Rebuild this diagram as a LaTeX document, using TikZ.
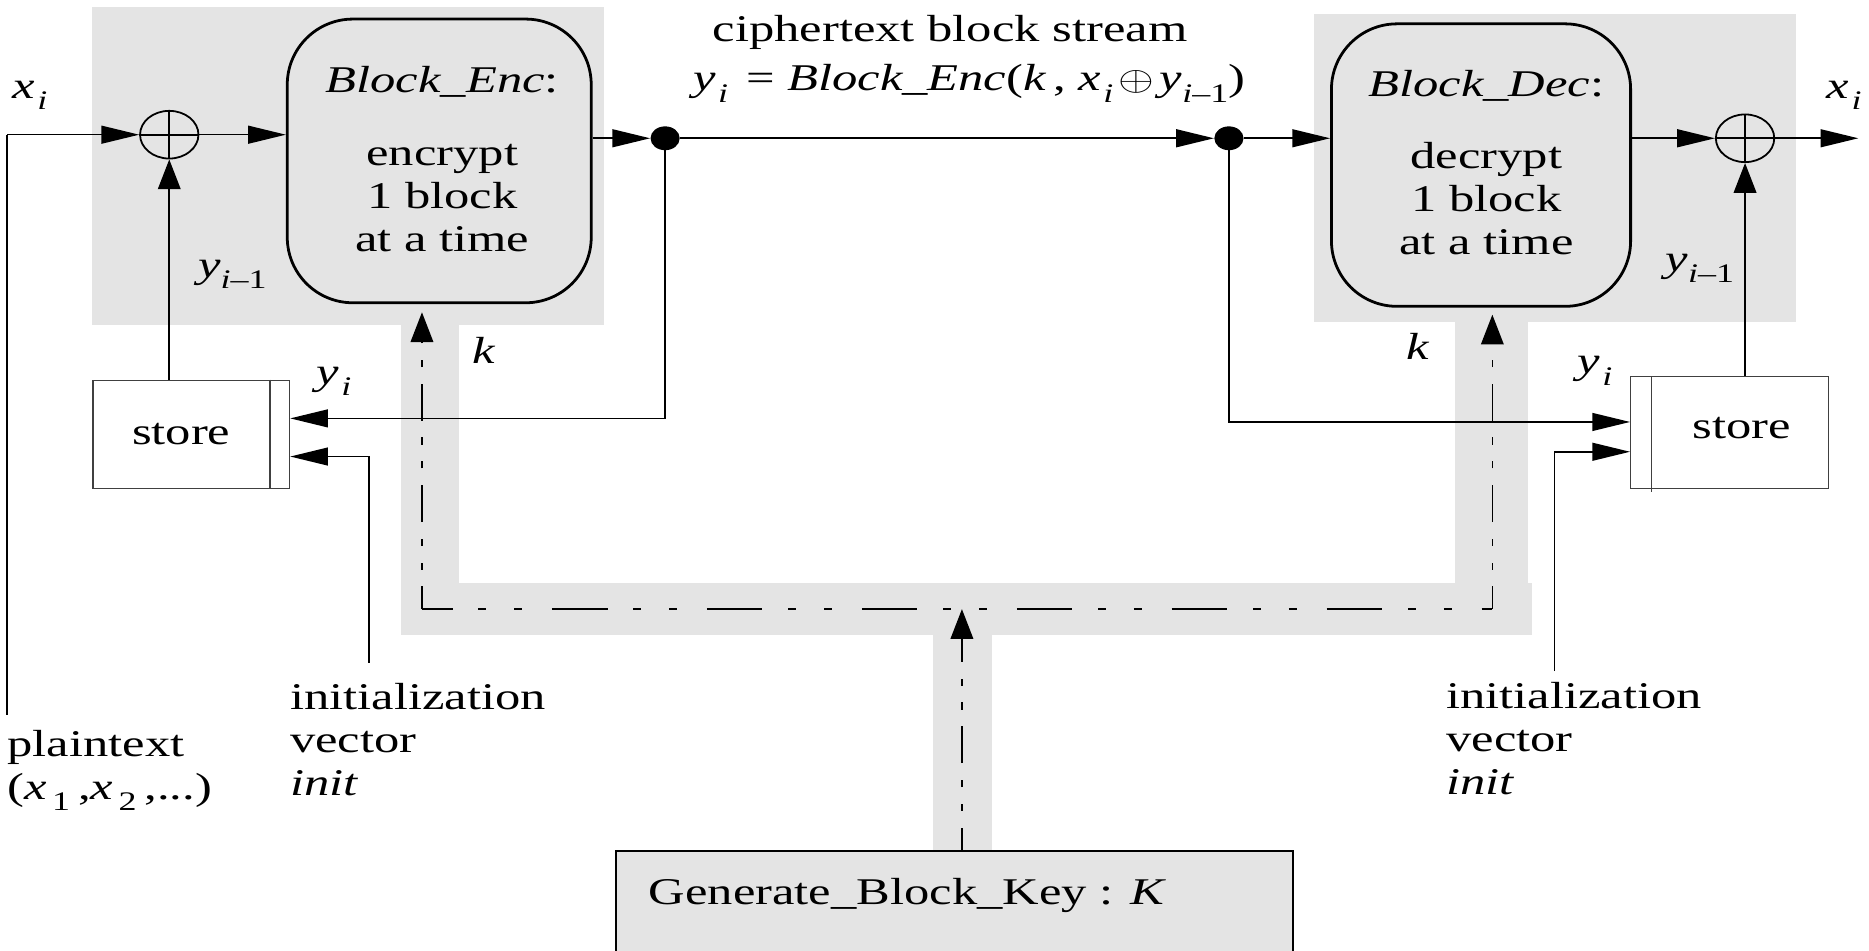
\documentclass[tikz,border=0pt]{standalone}
\usepackage{fontspec}
\setmainfont{Liberation Serif}
\usepackage{graphicx}
\usetikzlibrary{arrows.meta,shapes.geometric,fit}
\definecolor{panel}{HTML}{E4E4E4}
% all lettering is set a little wider than the font's natural shape
\newcommand{\sx}[1]{\scalebox{1.34}[1]{#1}}
\newcommand{\lowidx}[1]{\raisebox{-0.3em}{\fontsize{13.5}{13.5}\selectfont #1}}
\newcommand{\linesof}[2][c]{\begin{tabular}{@{}#1@{}}#2\end{tabular}}
\begin{document}
\begin{tikzpicture}[x=0.6pt,y=-0.6pt,
  every node/.style={font=\fontsize{19}{21.6}\selectfont},
  wire/.style={line width=0.8pt},
  hto/.style={wire,-{Triangle[length=19pt,width=9pt]}},
  vto/.style={wire,-{Triangle[length=15pt,width=11.4pt]}},
  keyh/.style={line width=0.8pt,dash pattern=on 28pt off 13pt on 4pt off 14pt on 4pt off 15pt,dash phase=12.6pt},
  keyv/.style={line width=0.8pt,dash pattern=on 18.6pt off 8.4pt on 3.6pt off 8.4pt on 3.6pt off 8.4pt,dash phase=7.2pt},
  cipher/.style={draw,line width=1.4pt,fill=panel,rounded corners=33pt,inner sep=0pt},
  storebox/.style={draw=black!75,line width=0.6pt,fill=white,inner sep=0pt},
  genbox/.style={draw,line width=0.9pt,fill=panel,inner sep=0pt},
  xorop/.style={ellipse,draw,line width=0.9pt,minimum width=29.4pt,minimum height=24pt,inner sep=0pt},
  joint/.style={ellipse,fill,minimum width=14.7pt,minimum height=12pt,inner sep=0pt},
  lbl/.style={inner sep=0pt},
]
\useasboundingbox (0,0) rectangle (1568,797);
\clip (0,0) rectangle (1568,797);

% grey backdrops: the two cipher panels and the key distribution channel
\fill[panel] (77,6) rectangle (507,273);
\fill[panel] (1102,12) rectangle (1507,270);
\fill[panel] (336,270) rectangle (385,533);
\fill[panel] (336,489) rectangle (1285,533);
\fill[panel] (1221,268) rectangle (1282,533);
\fill[panel] (783,530) rectangle (832,716);

% encryption side
\node[cipher,fit={(241,16) (496,254)}] (enc) {};
\node[lbl] (enctext) at (371,137) {\sx{\linesof{\textit{Block\_Enc}:\\[15pt] encrypt\\ 1 block\\ at a time}}};
\node[xorop] (xor1) at (142,113) {};
\draw[line width=0.9pt] (xor1.north) -- (xor1.south) (xor1.west) -- (xor1.east);
\node[joint] (dot1) at (558,116) {};
\node[storebox,fit={(78,319) (243,410)}] (store1) {};
\draw[draw=black!75,line width=0.6pt] ([xshift=-10.2pt]store1.north east) -- ([xshift=-10.2pt]store1.south east);
\node[lbl] (store1text) at (152,364) {\sx{store}};

% decryption side
\node[cipher,fit={(1117,20) (1368,257)}] (dec) {};
\node[lbl] (dectext) at (1247,140) {\sx{\linesof{\textit{Block\_Dec}:\\[15pt] decrypt\\ 1 block\\ at a time}}};
\node[xorop] (xor2) at (1464,116) {};
\draw[line width=0.9pt] (xor2.north) -- (xor2.south) (xor2.west) -- (xor2.east);
\node[joint] (dot2) at (1031,116) {};
\node[storebox,fit={(1368,316) (1534,410)}] (store2) {};
\draw[draw=black!75,line width=0.6pt] ([xshift=10.8pt]store2.north west) -- ([xshift=10.8pt,yshift=-1.2pt]store2.south west);
\node[lbl] (store2text) at (1461,359) {\sx{store}};

% key generator
\node[genbox,fit={(517,714) (1085,830)}] (gen) {};
\node[lbl,anchor=west] (gentext) at (544,751) {\sx{Generate\_Block\_Key : \textit{K}}};

% data path
\coordinate (inc) at (6,113);
\coordinate (ptx) at (6,600);
\draw[wire] (inc) -- (ptx);
\draw[hto] (inc) -- (xor1.west);
\draw[hto] (xor1.east) -- (xor1.east -| enc.west);
\draw[hto] (enc.east |- dot1) -- (dot1.west);
\draw[hto] (dot1.east) -- (dot2.west);
\draw[hto] (dot2.east) -- (dot2 -| dec.west);
\draw[hto] (dec.east |- xor2) -- (xor2.west);
\coordinate (outx) at (1559,116);
\draw[hto] (xor2.east) -- (outx);

% chaining feedback through the stores
\coordinate (fb1) at (558,351);
\draw[hto] (dot1.center) -- (fb1) -- (fb1 -| store1.east);
\coordinate (fb2) at (1031,354);
\draw[hto] (dot2.center) -- (fb2) -- (fb2 -| store2.west);
\coordinate (iv1) at (309.5,556);
\coordinate (iv1t) at (309.5,383);
\draw[hto] (iv1) -- (iv1t) -- (iv1t -| store1.east);
\coordinate (iv2) at (1304,563);
\coordinate (iv2t) at (1304,379);
\draw[hto] (iv2) -- (iv2t) -- (iv2t -| store2.west);
\draw[vto] (store1.north -| xor1) -- (xor1.south);
\draw[vto] (store2.north -| xor2) -- (xor2.south);

% key distribution
\coordinate (kl) at (354,511);
\coordinate (kj) at (807,511);
\coordinate (kr) at (1252,511);
\coordinate (ktl) at (354,262);
\coordinate (ktr) at (1252,264);
\draw[keyh] (kl) -- (kr);
\draw[keyv,vto] (kl) -- (ktl);
\draw[keyv,vto] (kr) -- (ktr);
\draw[keyv,vto] (gen.north -| kj) -- (kj);

% labels
\node[lbl] (lxin) at (25,80) {\sx{\textit{x}\kern1pt\lowidx{\textit{i}}}};
\node[lbl] (lyprev1) at (195,230) {\sx{\textit{y}\lowidx{\textit{i}–1}}};
\node[lbl] (lk1) at (406,294) {\sx{\textit{k}}};
\node[lbl] (lyi1) at (280,320) {\sx{\textit{y}\kern1pt\lowidx{\textit{i}}}};
\node[lbl] (lxout) at (1547,80) {\sx{\textit{x}\kern1pt\lowidx{\textit{i}}}};
\node[lbl] (lyprev2) at (1426,225) {\sx{\textit{y}\lowidx{\textit{i}–1}}};
\node[lbl] (lk2) at (1190,291) {\sx{\textit{k}}};
\node[lbl] (lyi2) at (1338,311) {\sx{\textit{y}\kern1pt\lowidx{\textit{i}}}};
\node[lbl] (ctitle) at (797,27) {\sx{ciphertext block stream}};
\node[lbl] (ceq) at (813,70) {\sx{\textit{y}\kern1pt\lowidx{\textit{i}}\kern2pt{} = \textit{Block\_Enc}(\textit{k}\kern2.5pt, \textit{x}\kern1pt\lowidx{\textit{i}}\kern2pt$\oplus$\kern2pt\textit{y}\lowidx{\textit{i}–1})}};
\node[lbl,anchor=north west] (plain) at (6,609) {\sx{\linesof[l]{plaintext\\(\textit{x}\kern2pt\lowidx{1}\kern3pt,\textit{x}\kern2pt\lowidx{2}\kern3pt,...)}}};
\node[lbl,anchor=north west] (ivtext1) at (243,570) {\sx{\linesof[l]{initialization\\ vector\\ \textit{init}}}};
\node[lbl,anchor=north west] (ivtext2) at (1213,569) {\sx{\linesof[l]{initialization\\ vector\\ \textit{init}}}};
\end{tikzpicture}
\end{document}
